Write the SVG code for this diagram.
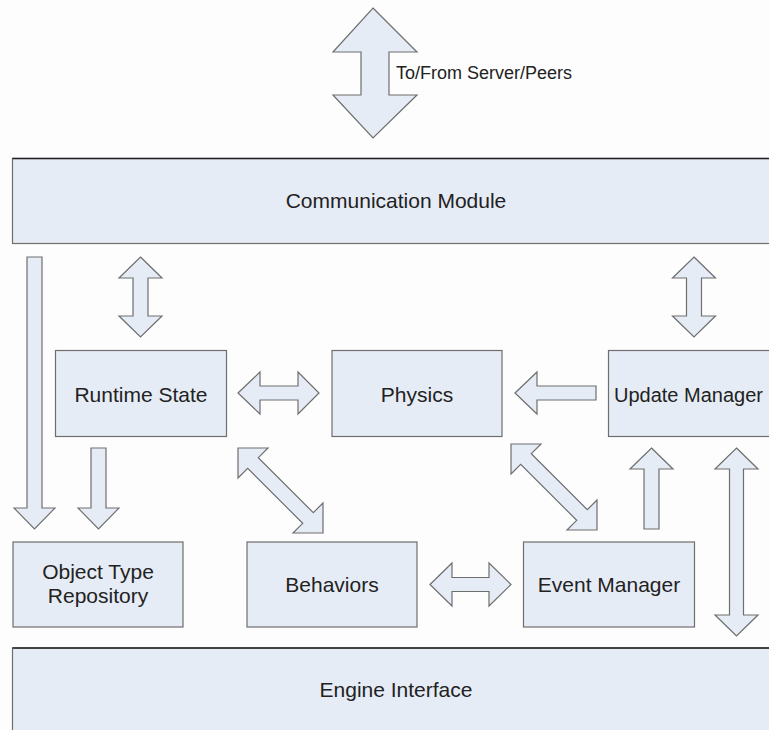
<svg xmlns="http://www.w3.org/2000/svg" width="769" height="730" viewBox="0 0 769 730">
<style>
.box{fill:#E6ECF6;stroke:#6E6E6E;stroke-width:1.2}
.arr{fill:#E6ECF6;stroke:#6E6E6E;stroke-width:1.2;stroke-linejoin:miter}
.edge{stroke:#222;stroke-width:1.5}
text{font-family:"Liberation Sans",Arial,sans-serif;fill:#222}
.lbl{font-size:21px;text-anchor:middle}
</style>
<rect x="0" y="0" width="769" height="730" fill="#FDFDFD"/>
<g id="connectors">
<polygon class="arr" points="373,8 417,52 389,52 389,95 417,95 373,138 333,95 361,95 361,52 333,52"/>
<polygon class="arr" points="27,257 42,257 42,508 55,508 34.5,529 14,508 27,508"/>
<polygon class="arr" points="140.5,257 162,278 148,278 148,316 162,316 140.5,337 119,316 133,316 133,278 119,278"/>
<polygon class="arr" points="694,257 715.5,278 701.5,278 701.5,316 715.5,316 694,337 672.5,316 686.5,316 686.5,278 672.5,278"/>
<polygon class="arr" points="238,393 260,372 260,386 298,386 298,372 319,393 298,414 298,400 260,400 260,414"/>
<polygon class="arr" points="515,393 537,372 537,386 596,386 596,400 537,400 537,414"/>
<polygon class="arr" points="91,448 106,448 106,508 119,508 98.5,529 78,508 91,508"/>
<polygon class="arr" points="651.5,448 673,469 659,469 659,529 644,529 644,469 630,469"/>
<polygon class="arr" points="736.5,448 758,469 743.5,469 743.5,615 758,615 736.5,636 715,615 729.5,615 729.5,469 715,469"/>
<polygon class="arr" points="430,584.5 452,563 452,577.5 489,577.5 489,563 511,584.5 489,606 489,591.5 452,591.5 452,606"/>
<polygon class="arr" points="238,448 268,448 258.3,457.7 313.3,512.7 323,503 323,533 293,533 302.7,523.3 247.7,468.3 238,478"/>
<polygon class="arr" points="511,444 541,444 531.3,453.7 587.3,509.7 597,500 597,530 567,530 576.7,520.3 520.7,464.3 511,474"/>
<text x="396" y="79" font-size="18">To/From Server/Peers</text>
</g>
<g id="comm">
<rect class="box" x="12.5" y="158.5" width="790" height="85"/>
<line class="edge" x1="12.5" y1="158.5" x2="769" y2="158.5"/>
<text class="lbl" x="396" y="208">Communication Module</text>
</g>
<g id="runtime">
<rect class="box" x="55.5" y="350.5" width="171" height="86"/>
<text class="lbl" x="141" y="401.5">Runtime State</text>
</g>
<g id="physics">
<rect class="box" x="332" y="350.5" width="170" height="86"/>
<text class="lbl" x="417" y="401.5">Physics</text>
</g>
<g id="update">
<rect class="box" x="608.5" y="350.5" width="180" height="86"/>
<text x="614" y="401.5" font-size="20">Update Manager</text>
</g>
<g id="objtype">
<rect class="box" x="13" y="542" width="170" height="85"/>
<text class="lbl" x="98" y="579">Object Type</text>
<text class="lbl" x="98" y="603">Repository</text>
</g>
<g id="behaviors">
<rect class="box" x="247" y="542" width="170" height="85"/>
<text class="lbl" x="332" y="591.5">Behaviors</text>
</g>
<g id="event">
<rect class="box" x="523.5" y="542" width="171" height="85"/>
<text class="lbl" x="609" y="591.5">Event Manager</text>
</g>
<g id="engine">
<rect class="box" x="12.5" y="648" width="790" height="100"/>
<line class="edge" x1="12.5" y1="648" x2="769" y2="648"/>
<text class="lbl" x="396" y="697">Engine Interface</text>
</g>
</svg>
